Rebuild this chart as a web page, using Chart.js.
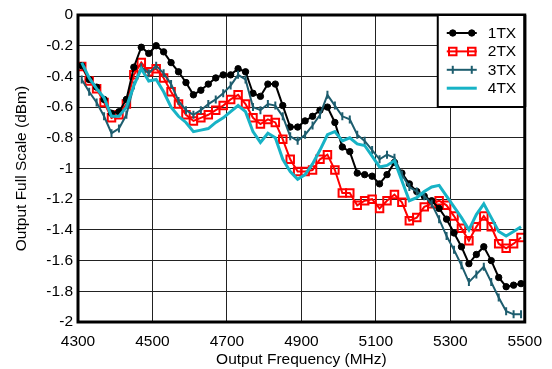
<!DOCTYPE html>
<html><head><meta charset="utf-8">
<script src="https://cdn.jsdelivr.net/npm/chart.js@4/dist/chart.umd.min.js"></script>
<style>html,body{margin:0;padding:0;background:#fff}#wrap{width:552px;height:369px;position:relative}</style>
</head><body><div id="wrap"><canvas id="c" width="552" height="369"></canvas></div>
<script>
const freqs = [4310,4330,4350,4370,4390,4410,4430,4450,4470,4490,4510,4530,4550,4570,4590,4610,4630,4650,4670,4690,4710,4730,4750,4770,4790,4810,4830,4850,4870,4890,4910,4930,4950,4970,4990,5010,5030,5050,5070,5090,5110,5130,5150,5170,5190,5210,5230,5250,5270,5290,5310,5330,5350,5370,5390,5410,5430,5450,5470,5490];
const tx1 = [-0.33,-0.42,-0.47,-0.55,-0.64,-0.63,-0.55,-0.34,-0.21,-0.25,-0.20,-0.24,-0.31,-0.37,-0.44,-0.52,-0.49,-0.45,-0.41,-0.39,-0.39,-0.35,-0.37,-0.51,-0.53,-0.45,-0.45,-0.59,-0.73,-0.73,-0.69,-0.66,-0.62,-0.60,-0.70,-0.86,-0.89,-1.03,-1.04,-1.05,-1.10,-1.04,-0.96,-1.03,-1.10,-1.15,-1.18,-1.21,-1.26,-1.33,-1.42,-1.51,-1.62,-1.56,-1.51,-1.60,-1.71,-1.77,-1.76,-1.75];
const tx2 = [-0.335,-0.43,-0.48,-0.57,-0.67,-0.65,-0.58,-0.39,-0.31,-0.37,-0.35,-0.41,-0.50,-0.58,-0.65,-0.69,-0.67,-0.65,-0.62,-0.59,-0.55,-0.52,-0.58,-0.67,-0.71,-0.68,-0.70,-0.81,-0.94,-1.02,-1.02,-1.01,-0.94,-0.91,-1.01,-1.16,-1.16,-1.24,-1.21,-1.20,-1.26,-1.21,-1.17,-1.22,-1.34,-1.32,-1.25,-1.23,-1.21,-1.24,-1.31,-1.39,-1.47,-1.38,-1.31,-1.38,-1.49,-1.52,-1.49,-1.45];
const tx3 = [-0.42,-0.50,-0.57,-0.66,-0.77,-0.74,-0.65,-0.46,-0.34,-0.38,-0.33,-0.38,-0.45,-0.56,-0.62,-0.65,-0.62,-0.58,-0.55,-0.51,-0.46,-0.39,-0.42,-0.60,-0.62,-0.58,-0.59,-0.66,-0.79,-0.82,-0.78,-0.72,-0.65,-0.52,-0.59,-0.66,-0.68,-0.78,-0.82,-0.88,-0.94,-0.91,-0.93,-1.04,-1.12,-1.15,-1.18,-1.23,-1.33,-1.44,-1.53,-1.63,-1.74,-1.69,-1.64,-1.74,-1.84,-1.93,-1.95,-1.95];
const tx4 = [-0.31,-0.41,-0.48,-0.54,-0.66,-0.66,-0.60,-0.46,-0.35,-0.43,-0.42,-0.50,-0.60,-0.66,-0.70,-0.76,-0.75,-0.74,-0.70,-0.67,-0.63,-0.59,-0.63,-0.76,-0.83,-0.77,-0.80,-0.94,-1.02,-1.07,-1.04,-0.97,-0.88,-0.78,-0.76,-0.82,-0.80,-0.84,-0.85,-0.92,-0.99,-0.98,-0.95,-1.08,-1.21,-1.19,-1.15,-1.12,-1.11,-1.18,-1.25,-1.32,-1.40,-1.30,-1.23,-1.32,-1.41,-1.44,-1.41,-1.38];
const seriesLabels = ['1TX','2TX','3TX','4TX'];
const xTickValues = [4300,4500,4700,4900,5100,5300,5500];
const yTickValues = [0,-0.2,-0.4,-0.6,-0.8,-1,-1.2,-1.4,-1.6,-1.8,-2];

const FONT = "'Liberation Sans', Arial, Helvetica, sans-serif";
Chart.defaults.font.family = FONT;
Chart.defaults.font.size = 15.5;
Chart.defaults.color = '#000';

const pts = arr => freqs.map((f, i) => ({x: f, y: arr[i]}));

const framePlugin = {
  id: 'frame',
  afterDatasetsDraw(chart) {
    const {ctx, chartArea: ca} = chart;
    ctx.save();
    ctx.strokeStyle = '#000';
    ctx.lineWidth = 3;
    ctx.strokeRect(ca.left, ca.top, ca.right - ca.left, ca.bottom - ca.top);
    ctx.restore();
  }
};

const legendPlugin = {
  id: 'boxLegend',
  afterDraw(chart) {
    const {ctx, chartArea: ca} = chart;
    const w = 87, h = 92;
    const x0 = ca.right - w, y0 = ca.top;
    ctx.save();
    ctx.fillStyle = '#fff';
    ctx.fillRect(x0, y0, w, h);
    ctx.lineWidth = 2;
    ctx.strokeStyle = '#000';
    ctx.strokeRect(x0, y0, w, h);
    ctx.lineWidth = 3;
    ctx.beginPath(); ctx.moveTo(ca.right, y0); ctx.lineTo(ca.right, y0 + h); ctx.stroke();
    chart.data.datasets.forEach((ds, i) => {
      const y = y0 + 18 + i * 18.4;
      ctx.strokeStyle = ds.borderColor;
      ctx.lineWidth = ds.borderWidth;
      ctx.beginPath(); ctx.moveTo(x0 + 9, y); ctx.lineTo(x0 + 39, y); ctx.stroke();
      if (ds.pointRadius > 0) {
        [x0 + 15, x0 + 34].forEach(px => {
          ctx.strokeStyle = ds.pointBorderColor;
          ctx.fillStyle = ds.pointBackgroundColor;
          ctx.lineWidth = ds.pointBorderWidth;
          Chart.helpers.drawPoint(ctx, {pointStyle: ds.pointStyle, radius: ds.pointRadius, rotation: ds.pointRotation || 0, borderWidth: ds.pointBorderWidth}, px, y);
        });
      }
      ctx.fillStyle = '#000';
      ctx.font = '15.5px ' + FONT;
      ctx.textBaseline = 'middle';
      ctx.textAlign = 'left';
      ctx.fillText(ds.label, x0 + 50, y + 0.5);
    });
    ctx.restore();
  }
};

new Chart(document.getElementById('c'), {
  type: 'line',
  data: {
    datasets: [
      {label: seriesLabels[0], data: pts(tx1), borderColor: '#000', borderWidth: 2, pointStyle: 'circle', pointRadius: 3.2, pointBackgroundColor: '#000', pointBorderColor: '#000', pointBorderWidth: 1, order: 3},
      {label: seriesLabels[1], data: pts(tx2), borderColor: '#ff0000', borderWidth: 2, pointStyle: 'rect', pointRadius: 5.3, pointBackgroundColor: 'rgba(0,0,0,0)', pointBorderColor: '#ff0000', pointBorderWidth: 2, order: 4},
      {label: seriesLabels[2], data: pts(tx3), borderColor: '#1d5d6e', borderWidth: 2, pointStyle: 'line', pointRotation: 90, pointRadius: 4, pointBackgroundColor: '#1d5d6e', pointBorderColor: '#1d5d6e', pointBorderWidth: 2, order: 2},
      {label: seriesLabels[3], data: pts(tx4), borderColor: '#17b3c6', borderWidth: 3, pointRadius: 0, pointBorderWidth: 0, order: 1}
    ]
  },
  options: {
    responsive: false,
    devicePixelRatio: 1,
    animation: false,
    layout: {padding: {left: 0, right: 22, top: 15, bottom: 0}},
    elements: {line: {tension: 0}},
    plugins: {legend: {display: false}, tooltip: {enabled: false}},
    scales: {
      x: {
        type: 'linear', min: 4300, max: 5500,
        afterBuildTicks: s => { s.ticks = xTickValues.map(v => ({value: v})); },
        afterFit: s => { s.height = 47; },
        grid: {color: '#222', lineWidth: 1, drawTicks: false},
        border: {display: false},
        ticks: {padding: 10, maxRotation: 0, autoSkip: false, callback: v => String(v)},
        title: {display: true, text: 'Output Frequency (MHz)', padding: {top: 0, bottom: 0}}
      },
      y: {
        type: 'linear', min: -2, max: 0,
        afterBuildTicks: s => { s.ticks = yTickValues.map(v => ({value: v})); },
        afterFit: s => { s.width = 78; },
        grid: {color: '#222', lineWidth: 1, drawTicks: false},
        border: {display: false},
        ticks: {padding: 5, autoSkip: false, callback: v => String(Math.round(v * 10) / 10)},
        title: {display: true, text: 'Output Full Scale (dBm)', padding: {top: 12, bottom: 0}}
      }
    }
  },
  plugins: [framePlugin, legendPlugin]
});
</script></body></html>
